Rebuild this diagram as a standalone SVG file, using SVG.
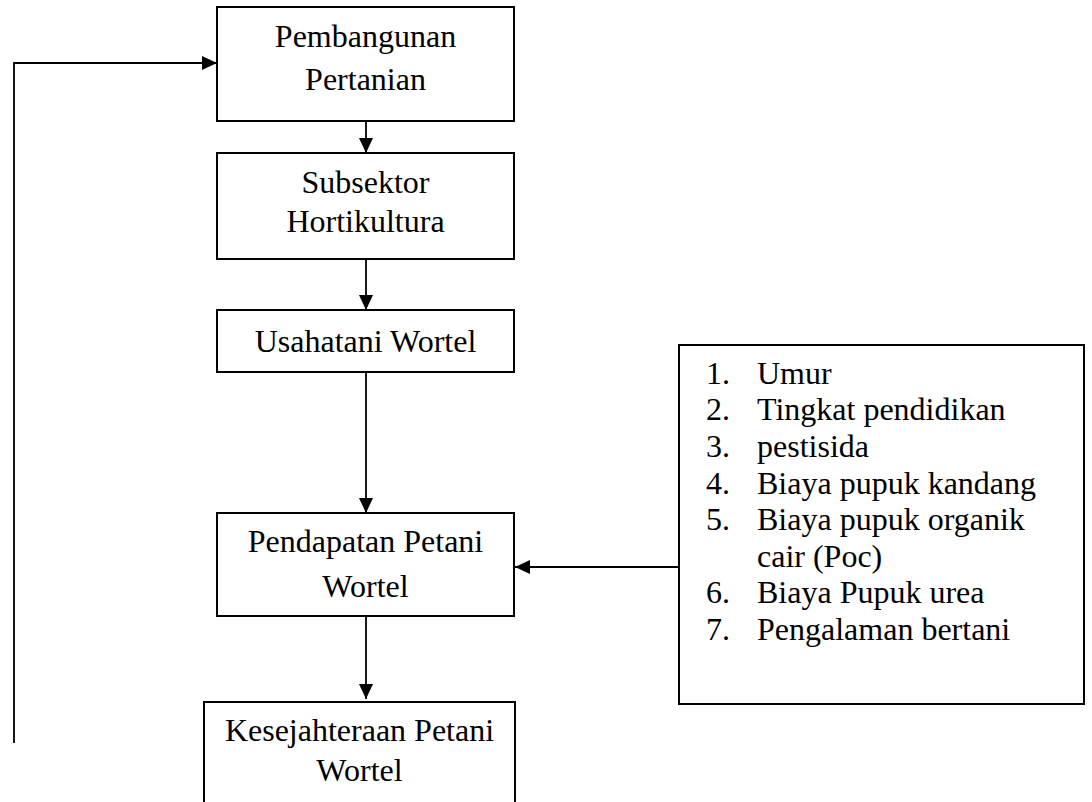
<svg xmlns="http://www.w3.org/2000/svg" width="1092" height="802" viewBox="0 0 1092 802">
<style>
.box{fill:#fff;stroke:#000;stroke-width:2}
.t{font-family:"Liberation Serif","Times New Roman",serif;font-size:32px;fill:#000}
.c{text-anchor:middle}
.ln{fill:none;stroke:#000;stroke-width:1.8}
</style>
<defs>
<marker id="ah" markerWidth="15" markerHeight="14" refX="15" refY="7" orient="auto" markerUnits="userSpaceOnUse">
<path d="M0,0 L15,7 L0,14 Z" fill="#000"/>
</marker>
</defs>
<rect width="1092" height="802" fill="#fff"/>
<g id="connectors">
<path class="ln" d="M366,121 V153" marker-end="url(#ah)"/>
<path class="ln" d="M366,259 V310" marker-end="url(#ah)"/>
<path class="ln" d="M366,372 V513" marker-end="url(#ah)"/>
<path class="ln" d="M366,612 V699" marker-end="url(#ah)"/>
<path class="ln" d="M679,567 H515" marker-end="url(#ah)"/>
<path class="ln" d="M14,743 V63 H217" marker-end="url(#ah)"/>
</g>
<g id="pembangunan">
<rect class="box" x="217" y="7" width="297" height="114"/>
<text class="t c" x="365.5" y="47">Pembangunan</text>
<text class="t c" x="365.5" y="90">Pertanian</text>
</g>
<g id="subsektor">
<rect class="box" x="217" y="153" width="297" height="106"/>
<text class="t c" x="365.5" y="193">Subsektor</text>
<text class="t c" x="365.5" y="232">Hortikultura</text>
</g>
<g id="usahatani">
<rect class="box" x="217" y="310" width="297" height="62"/>
<text class="t c" x="365.5" y="352">Usahatani Wortel</text>
</g>
<g id="pendapatan">
<rect class="box" x="217" y="513" width="297" height="103"/>
<text class="t c" x="365.5" y="552">Pendapatan Petani</text>
<text class="t c" x="365.5" y="597">Wortel</text>
</g>
<g id="kesejahteraan">
<rect class="box" x="204" y="702" width="311" height="130"/>
<text class="t c" x="359.5" y="741">Kesejahteraan Petani</text>
<text class="t c" x="359.5" y="781">Wortel</text>
</g>
<g id="faktor">
<rect class="box" x="679" y="345" width="405" height="359"/>
<text class="t" x="706" y="384">1.</text><text class="t" x="757" y="384">Umur</text>
<text class="t" x="706" y="420">2.</text><text class="t" x="757" y="420">Tingkat pendidikan</text>
<text class="t" x="706" y="457">3.</text><text class="t" x="757" y="457">pestisida</text>
<text class="t" x="706" y="494">4.</text><text class="t" x="757" y="494">Biaya pupuk kandang</text>
<text class="t" x="706" y="530">5.</text><text class="t" x="757" y="530">Biaya pupuk organik</text>
<text class="t" x="757" y="567">cair (Poc)</text>
<text class="t" x="706" y="603">6.</text><text class="t" x="757" y="603">Biaya Pupuk urea</text>
<text class="t" x="706" y="640">7.</text><text class="t" x="757" y="640">Pengalaman bertani</text>
</g>
</svg>
